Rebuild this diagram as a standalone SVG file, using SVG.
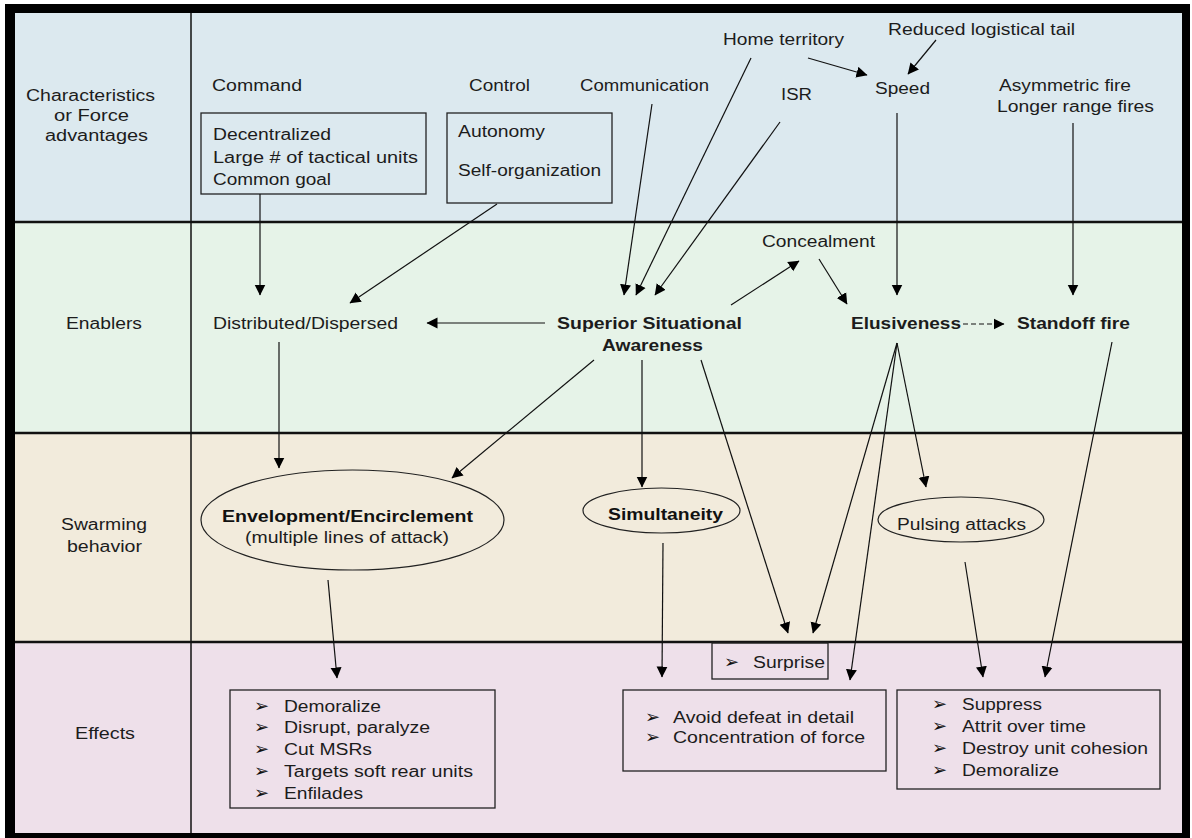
<svg xmlns="http://www.w3.org/2000/svg" width="1192" height="838" viewBox="0 0 1192 838">
<style>
text{font-family:"Liberation Sans",Arial,sans-serif;fill:#1c1c1c;}
.r{font-size:16px;}
.b{font-size:17px;font-weight:bold;fill:#111;}
.bul{font-family:"DejaVu Sans",sans-serif;font-size:18px;fill:#111;}
.box{fill:none;stroke:#222;stroke-width:1.3;}
.ell{fill:none;stroke:#222;stroke-width:1.2;}
.c{fill:none;stroke:#111;stroke-width:1.2;marker-end:url(#ah);}
.rowline{stroke:#111;stroke-width:2.5;}
</style>
<defs>
<marker id="ah" markerUnits="userSpaceOnUse" markerWidth="12" markerHeight="12" viewBox="0 0 12 12" refX="10.5" refY="6" orient="auto">
<path d="M0,0.5 L11,6 L0,11.5 z" fill="#000"/>
</marker>
</defs>
<rect x="0" y="0" width="1192" height="838" fill="#ffffff"/>
<g id="frame">
<rect x="5" y="4" width="1185" height="834" fill="#000"/>
<rect x="15" y="13" width="1167" height="209" fill="#dce9ef"/>
<rect x="15" y="222" width="1167" height="211" fill="#e6f3e8"/>
<rect x="15" y="433" width="1167" height="209" fill="#f2ebdc"/>
<rect x="15" y="642" width="1167" height="191" fill="#eee0ea"/>
<line class="rowline" x1="15" y1="222" x2="1182" y2="222"/>
<line class="rowline" x1="15" y1="433" x2="1182" y2="433"/>
<line class="rowline" x1="15" y1="642" x2="1182" y2="642"/>
<line x1="191" y1="13" x2="191" y2="833" stroke="#111" stroke-width="1.5"/>
</g>
<g id="row-labels" class="r">
<text x="26" y="101" textLength="129" lengthAdjust="spacingAndGlyphs">Characteristics</text>
<text x="54" y="121" textLength="75" lengthAdjust="spacingAndGlyphs">or Force</text>
<text x="45" y="141" textLength="103" lengthAdjust="spacingAndGlyphs">advantages</text>
<text x="66" y="329" textLength="76" lengthAdjust="spacingAndGlyphs">Enablers</text>
<text x="61" y="530" textLength="86" lengthAdjust="spacingAndGlyphs">Swarming</text>
<text x="67" y="552" textLength="75" lengthAdjust="spacingAndGlyphs">behavior</text>
<text x="75" y="739" textLength="60" lengthAdjust="spacingAndGlyphs">Effects</text>
</g>
<g id="command" class="r">
<text x="212" y="91" textLength="90" lengthAdjust="spacingAndGlyphs">Command</text>
<rect class="box" x="201" y="113" width="225" height="81"/>
<text x="213" y="140" textLength="118" lengthAdjust="spacingAndGlyphs">Decentralized</text>
<text x="213" y="163" textLength="205" lengthAdjust="spacingAndGlyphs">Large # of tactical units</text>
<text x="213" y="185" textLength="118" lengthAdjust="spacingAndGlyphs">Common goal</text>
</g>
<g id="control" class="r">
<text x="469" y="91" textLength="61" lengthAdjust="spacingAndGlyphs">Control</text>
<rect class="box" x="447" y="113" width="165" height="90"/>
<text x="458" y="137" textLength="87" lengthAdjust="spacingAndGlyphs">Autonomy</text>
<text x="458" y="176" textLength="143" lengthAdjust="spacingAndGlyphs">Self-organization</text>
</g>
<g id="communication" class="r"><text x="580" y="91" textLength="129" lengthAdjust="spacingAndGlyphs">Communication</text></g>
<g id="home-territory" class="r"><text x="723" y="45" textLength="121" lengthAdjust="spacingAndGlyphs">Home territory</text></g>
<g id="reduced-logistical-tail" class="r"><text x="888" y="35" textLength="187" lengthAdjust="spacingAndGlyphs">Reduced logistical tail</text></g>
<g id="isr" class="r"><text x="781" y="100" textLength="31" lengthAdjust="spacingAndGlyphs">ISR</text></g>
<g id="speed" class="r"><text x="875" y="94" textLength="55" lengthAdjust="spacingAndGlyphs">Speed</text></g>
<g id="fires" class="r">
<text x="999" y="91" textLength="132" lengthAdjust="spacingAndGlyphs">Asymmetric fire</text>
<text x="997" y="112" textLength="157" lengthAdjust="spacingAndGlyphs">Longer range fires</text>
</g>
<g id="concealment" class="r"><text x="762" y="247" textLength="113" lengthAdjust="spacingAndGlyphs">Concealment</text></g>
<g id="distributed" class="r"><text x="213" y="329" textLength="185" lengthAdjust="spacingAndGlyphs">Distributed/Dispersed</text></g>
<g id="ssa" class="b">
<text x="557" y="329" textLength="185" lengthAdjust="spacingAndGlyphs">Superior Situational</text>
<text x="602" y="351" textLength="101" lengthAdjust="spacingAndGlyphs">Awareness</text>
</g>
<g id="elusiveness" class="b"><text x="851" y="329" textLength="110" lengthAdjust="spacingAndGlyphs">Elusiveness</text></g>
<g id="standoff" class="b"><text x="1017" y="329" textLength="113" lengthAdjust="spacingAndGlyphs">Standoff fire</text></g>
<g id="envelopment">
<ellipse class="ell" cx="352.5" cy="520" rx="151.5" ry="50"/>
<text class="b" x="222" y="522" textLength="251" lengthAdjust="spacingAndGlyphs">Envelopment/Encirclement</text>
<text class="r" x="245" y="543" textLength="204" lengthAdjust="spacingAndGlyphs">(multiple lines of attack)</text>
</g>
<g id="simultaneity">
<ellipse class="ell" cx="661.5" cy="510.5" rx="78.5" ry="22.5"/>
<text class="b" x="608" y="520" textLength="115" lengthAdjust="spacingAndGlyphs">Simultaneity</text>
</g>
<g id="pulsing">
<ellipse class="ell" cx="961" cy="519.5" rx="83" ry="22.5"/>
<text class="r" x="897" y="530" textLength="129" lengthAdjust="spacingAndGlyphs">Pulsing attacks</text>
</g>
<g id="effects-left">
<rect class="box" x="230" y="690" width="265" height="118"/>
<text class="bul" x="254" y="712">➢</text>
<text class="bul" x="254" y="733">➢</text>
<text class="bul" x="254" y="755">➢</text>
<text class="bul" x="254" y="777">➢</text>
<text class="bul" x="254" y="799">➢</text>
<text class="r" x="284" y="712" textLength="97" lengthAdjust="spacingAndGlyphs">Demoralize</text>
<text class="r" x="284" y="733" textLength="146" lengthAdjust="spacingAndGlyphs">Disrupt, paralyze</text>
<text class="r" x="284" y="755" textLength="88" lengthAdjust="spacingAndGlyphs">Cut MSRs</text>
<text class="r" x="284" y="777" textLength="189" lengthAdjust="spacingAndGlyphs">Targets soft rear units</text>
<text class="r" x="284" y="799" textLength="79" lengthAdjust="spacingAndGlyphs">Enfilades</text>
</g>
<g id="surprise">
<rect class="box" x="712" y="643" width="116" height="36"/>
<text class="bul" x="724" y="668">➢</text>
<text class="r" x="753" y="668" textLength="72" lengthAdjust="spacingAndGlyphs">Surprise</text>
</g>
<g id="effects-middle">
<rect class="box" x="623" y="690" width="263" height="81"/>
<text class="bul" x="645" y="723">➢</text>
<text class="bul" x="645" y="743">➢</text>
<text class="r" x="673" y="723" textLength="181" lengthAdjust="spacingAndGlyphs">Avoid defeat in detail</text>
<text class="r" x="673" y="743" textLength="192" lengthAdjust="spacingAndGlyphs">Concentration of force</text>
</g>
<g id="effects-right">
<rect class="box" x="897" y="690" width="263" height="99"/>
<text class="bul" x="932" y="710">➢</text>
<text class="bul" x="932" y="732">➢</text>
<text class="bul" x="932" y="754">➢</text>
<text class="bul" x="932" y="776">➢</text>
<text class="r" x="962" y="710" textLength="80" lengthAdjust="spacingAndGlyphs">Suppress</text>
<text class="r" x="962" y="732" textLength="124" lengthAdjust="spacingAndGlyphs">Attrit over time</text>
<text class="r" x="962" y="754" textLength="186" lengthAdjust="spacingAndGlyphs">Destroy unit cohesion</text>
<text class="r" x="962" y="776" textLength="97" lengthAdjust="spacingAndGlyphs">Demoralize</text>
</g>
<g id="connectors">
<line class="c" x1="260" y1="194" x2="260" y2="295"/>
<line class="c" x1="497" y1="204" x2="350" y2="303"/>
<line class="c" x1="545" y1="323" x2="427" y2="323"/>
<line class="c" x1="652" y1="104" x2="624" y2="295"/>
<line class="c" x1="751" y1="58" x2="636" y2="295"/>
<line class="c" x1="780" y1="122" x2="655" y2="295"/>
<line class="c" x1="808" y1="58" x2="867" y2="75"/>
<line class="c" x1="936" y1="40" x2="908" y2="74"/>
<line class="c" x1="897" y1="113" x2="897" y2="295"/>
<line class="c" x1="1073" y1="123" x2="1073" y2="295"/>
<line class="c" x1="731" y1="305" x2="799" y2="261"/>
<line class="c" x1="819" y1="259" x2="847" y2="304"/>
<line class="c" x1="963" y1="324" x2="1004" y2="324" stroke-dasharray="5,3"/>
<line class="c" x1="279" y1="342" x2="279" y2="468"/>
<line class="c" x1="594" y1="360" x2="452" y2="478"/>
<line class="c" x1="642" y1="360" x2="642" y2="487"/>
<line class="c" x1="701" y1="360" x2="788" y2="633"/>
<line class="c" x1="897" y1="343" x2="813" y2="633"/>
<line class="c" x1="897" y1="343" x2="850" y2="680"/>
<line class="c" x1="897" y1="343" x2="926" y2="487"/>
<line class="c" x1="1112" y1="342" x2="1045" y2="677"/>
<line class="c" x1="328" y1="580" x2="337" y2="678"/>
<line class="c" x1="663" y1="543" x2="662" y2="677"/>
<line class="c" x1="965" y1="562" x2="983" y2="677"/>
</g>
</svg>
